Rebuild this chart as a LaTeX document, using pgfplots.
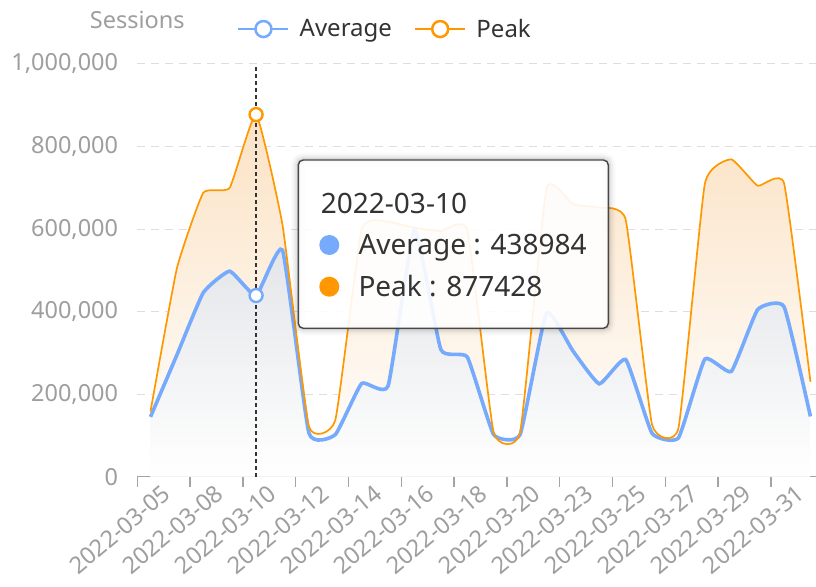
\documentclass[border=0pt]{standalone}
\usepackage{fontspec}
\setmainfont{Noto Sans}
\usepackage{pgfplots}
\usepackage{pgfplotstable}
\pgfplotsset{compat=1.18}

\definecolor{avgblue}{RGB}{118,170,252}
\definecolor{peakorange}{RGB}{255,152,0}
\definecolor{labelgray}{RGB}{158,158,158}
\definecolor{gridgray}{RGB}{222,222,222}
\definecolor{axisgray}{RGB}{165,165,165}
\definecolor{textdark}{RGB}{51,51,51}
\definecolor{peachtop}{RGB}{251,226,196}
\definecolor{avgtop}{RGB}{224,227,233}

% sessions per day (index = category position on the x axis)
\pgfplotstableread{
idx date       avg    peak
0   2022-03-05 145000 158000
1   2022-03-07 295000 505000
2   2022-03-08 446000 688000
3   2022-03-09 498000 700000
4   2022-03-10 438984 877428
5   2022-03-11 549000 610000
6   2022-03-12 106000 122000
7   2022-03-13 102000 137000
8   2022-03-14 226000 600000
9   2022-03-15 220000 618000
10  2022-03-16 598000 603000
11  2022-03-17 308000 595000
12  2022-03-18 290000 598000
13  2022-03-19 102000 107000
14  2022-03-20 102000 107000
15  2022-03-22 397000 698000
16  2022-03-23 305000 660000
17  2022-03-24 225000 652000
18  2022-03-25 284000 623000
19  2022-03-26 105000 126000
20  2022-03-27 94000  118000
21  2022-03-28 285000 710000
22  2022-03-29 255000 769000
23  2022-03-30 405000 705000
24  2022-03-31 412000 711000
25  2022-04-01 146000 230000
}\sessions

\pgfplotsset{curve/.style={smooth, tension=0.25}}

\begin{document}
\begin{tikzpicture}
\begin{axis}[
    at={(0,0)}, anchor=south west,
    scale only axis,
    width=678.7bp, height=412.7bp,
    xmin=-0.5, xmax=25.21,
    ymin=0, ymax=1000000,
    axis x line=bottom, axis y line=left,
    axis line style={-},
    x axis line style={draw=axisgray, line width=1.3bp},
    y axis line style={draw=none},
    major tick length=0pt,
    xtick={0,2,...,24},
    xticklabels={2022-03-05,2022-03-08,2022-03-10,2022-03-12,2022-03-14,2022-03-16,2022-03-18,2022-03-20,2022-03-23,2022-03-25,2022-03-27,2022-03-29,2022-03-31},
    extra x ticks={-0.5,1.5,...,23.5},
    extra x tick labels={},
    extra x tick style={major tick length=10bp, tick align=outside,
        tick style={draw=axisgray, line width=1.3bp}, grid=none},
    xticklabel style={font=\fontsize{23.5bp}{28bp}\selectfont, text=labelgray,
        rotate=40, anchor=north east, inner sep=0pt, xshift=4bp, yshift=-12bp},
    ytick={0,200000,...,1000000},
    scaled y ticks=false,
    yticklabel style={font=\fontsize{23.5bp}{28bp}\selectfont, text=labelgray,
        inner sep=0pt, xshift=-19bp,
        /pgf/number format/fixed, /pgf/number format/1000 sep={,},
        /pgf/number format/assume math mode=true},
    ymajorgrids,
    grid style={gridgray, line width=1bp, dash pattern=on 8bp off 6bp},
    ylabel={Sessions},
    ylabel style={rotate=-90, at={(axis description cs:0,1)}, anchor=center,
        yshift=44bp, font=\fontsize{23.5bp}{28bp}\selectfont, text=labelgray},
    legend columns=2,
    legend cell align=left,
    legend image code/.code={
        \draw[#1] (0bp,0bp) -- (50bp,0bp);
        \draw[#1, fill=white] (25bp,0bp) circle (8bp);
    },
    legend style={at={(axis description cs:0.1469,1.0847)}, anchor=west,
        draw=none, fill=none, inner sep=0pt,
        font=\fontsize{24bp}{29bp}\selectfont, text=textdark,
        nodes={inner sep=0pt},
        /tikz/every odd column/.append style={column sep=10bp},
        /tikz/every even column/.append style={column sep=22bp}},
]
% areas
\addplot[draw=none, forget plot, curve,
    top color=peachtop, bottom color=white] table[x=idx, y=peak]{\sessions} \closedcycle;
\addplot[draw=none, forget plot, curve,
    top color=avgtop, bottom color=white, fill opacity=0.92] table[x=idx, y=avg]{\sessions} \closedcycle;
% lines
\addplot[avgblue, line width=3.6bp, curve, forget plot] table[x=idx, y=avg]{\sessions};
\addplot[peakorange, line width=1.7bp, curve, forget plot] table[x=idx, y=peak]{\sessions};
% hover guide and markers
\addplot[textdark, line width=1.3bp, dash pattern=on 4bp off 3bp, forget plot]
    coordinates {(4,0) (4,1000000)};
\addplot[only marks, mark=*, mark size=6.5bp, forget plot,
    mark options={draw=peakorange, fill=white, line width=2.4bp}] coordinates {(4,877428)};
\addplot[only marks, mark=*, mark size=6.5bp, forget plot,
    mark options={draw=avgblue, fill=white, line width=2.4bp}] coordinates {(4,438984)};
% legend
\addlegendimage{avgblue, line width=2.5bp}
\addlegendentry{Average}
\addlegendimage{peakorange, line width=2.5bp}
\addlegendentry{Peak}
\end{axis}

% tooltip
\foreach \w/\o in {14/0.025, 10/0.035, 6/0.05, 3/0.07}
    \draw[black, opacity=\o, line width=\w bp, rounded corners=5bp]
        (161bp,148.4bp) rectangle (471bp,316.7bp);
\draw[textdark!90, line width=1.4bp, fill=white, fill opacity=0.9, rounded corners=5bp]
    (161bp,148.4bp) rectangle (471bp,316.7bp);
\node[anchor=base west, inner sep=0pt, text=textdark, font=\fontsize{28bp}{33bp}\selectfont]
    at (183.4bp,263.4bp) {2022-03-10};
\fill[avgblue] (192bp,231.7bp) circle (10bp);
\node[anchor=base west, inner sep=0pt, text=textdark, font=\fontsize{28bp}{33bp}\selectfont]
    at (221bp,221.7bp) {Average : 438984};
\fill[peakorange] (192bp,190bp) circle (10bp);
\node[anchor=base west, inner sep=0pt, text=textdark, font=\fontsize{28bp}{33bp}\selectfont]
    at (221bp,180bp) {Peak : 877428};

\pgfresetboundingbox
\path[use as bounding box] (-137.3bp,-110.3bp) rectangle (678.7bp,476.7bp);
\end{tikzpicture}
\end{document}
